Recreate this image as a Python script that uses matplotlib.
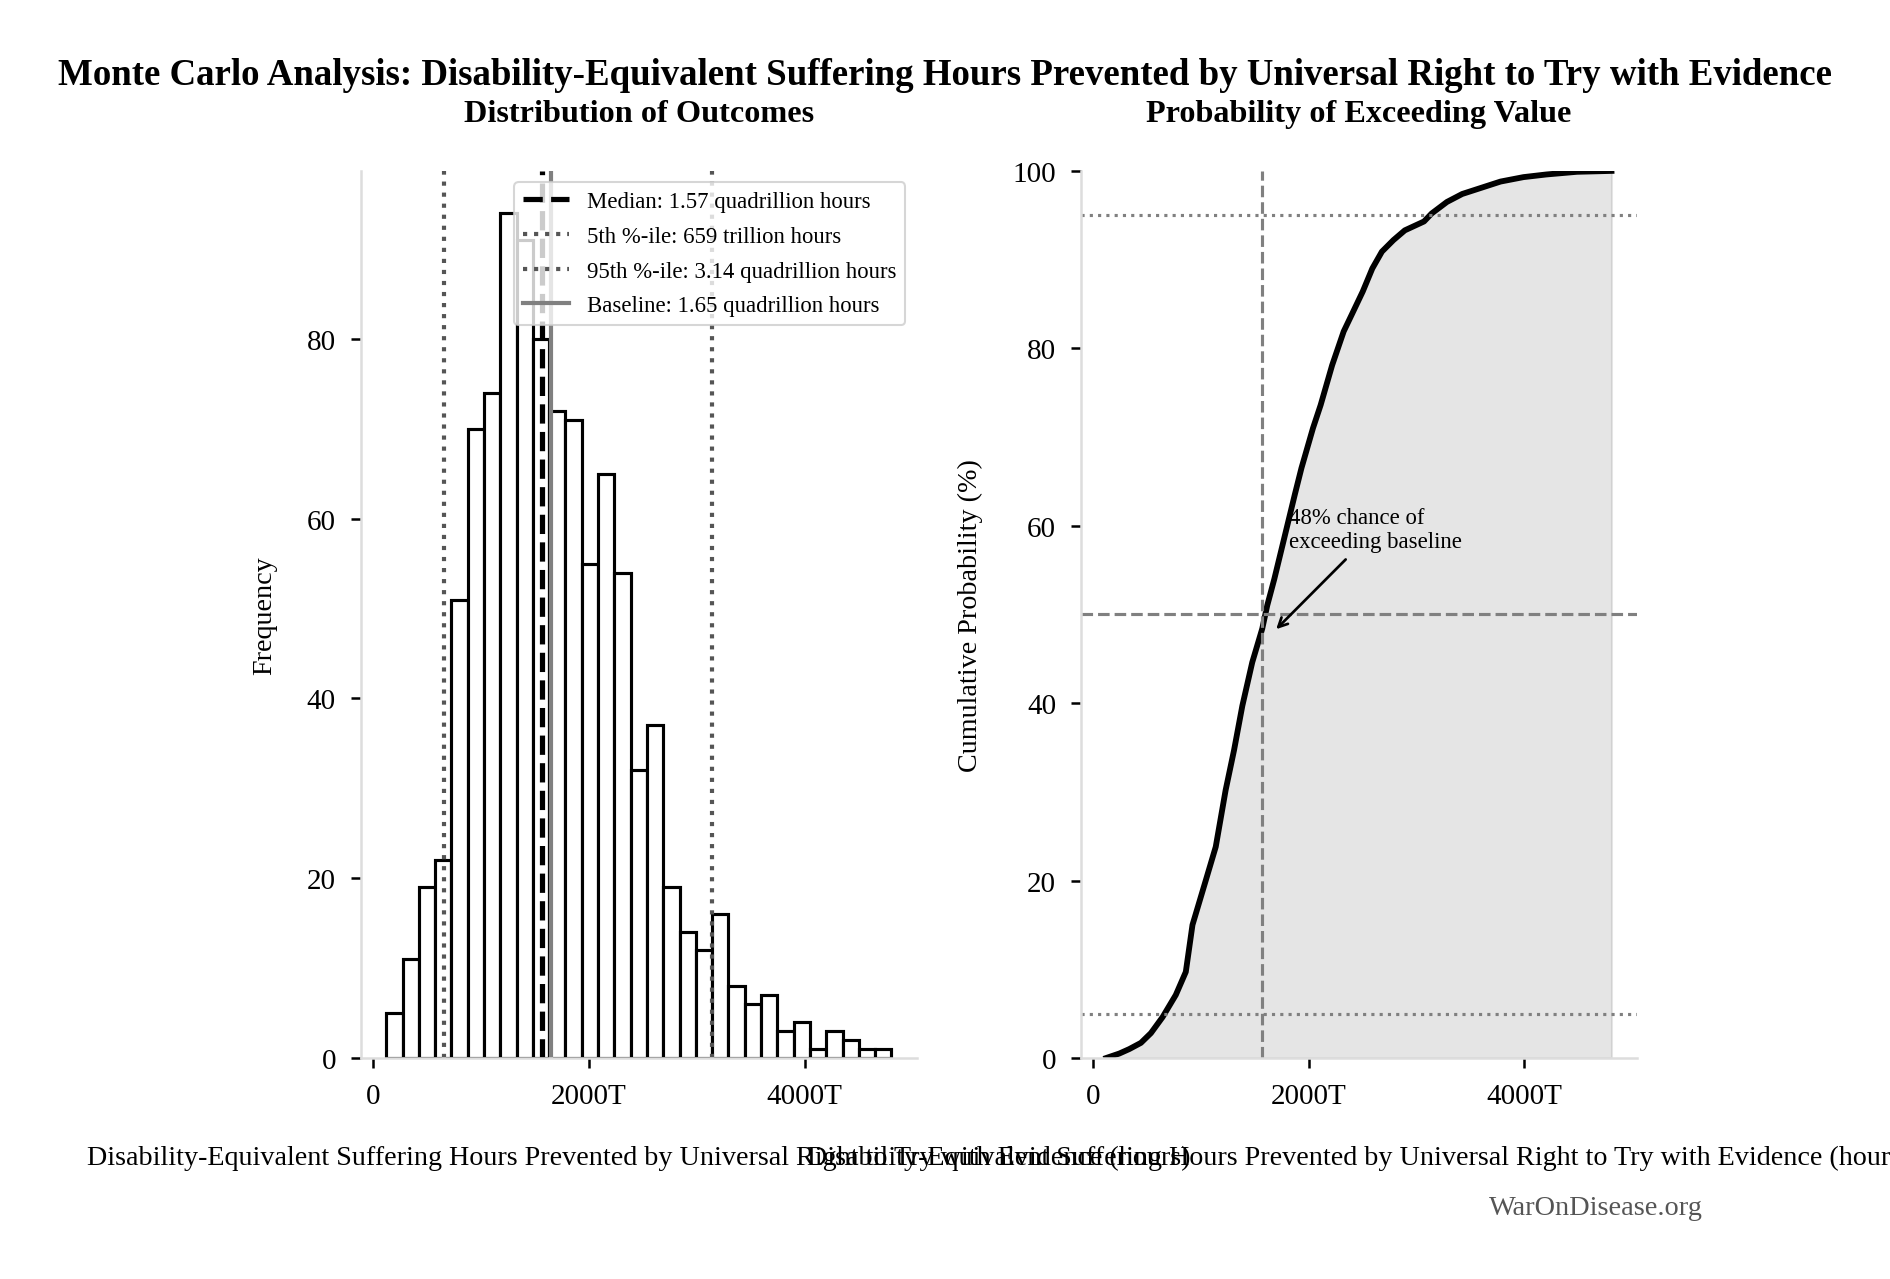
import numpy as np
import matplotlib
matplotlib.use("Agg")
import matplotlib.pyplot as plt
from matplotlib.ticker import FuncFormatter

plt.rcParams['font.family'] = ['Liberation Serif', 'DejaVu Serif']

# histogram (values in trillion hours)
bin_left = 124
bin_width = 151
counts = [5, 11, 19, 22, 51, 70, 74, 94, 91, 80, 72, 71, 55, 65, 54, 32,
          37, 19, 14, 12, 16, 8, 6, 7, 3, 4, 1, 3, 2, 1, 1]

median_val = 1570
p5_val = 659
p95_val = 3140
baseline_val = 1650

# cumulative curve
cdf_x = [120, 241, 333, 441, 534, 642, 765, 858, 920, 1043, 1136, 1228, 1306,
         1383, 1475, 1568, 1614, 1680, 1730, 1790, 1870, 1932, 2039, 2110,
         2217, 2324, 2395, 2501, 2590, 2679, 2786, 2892, 3070, 3141, 3283,
         3425, 3603, 3781, 3994, 4207, 4491, 4811]
cdf_y = [0, 0.5, 1.0, 1.7, 2.8, 4.6, 7.1, 9.7, 15, 20, 23.8, 30.2, 34.7, 39.7,
         44.6, 48.4, 51, 54, 56.5, 59.5, 63.5, 66.5, 71, 73.6, 78.1, 81.9,
         83.7, 86.4, 89, 90.9, 92.2, 93.3, 94.3, 95.2, 96.5, 97.4, 98.1, 98.8,
         99.3, 99.6, 99.9, 100]

xlab = "Disability-Equivalent Suffering Hours Prevented by Universal Right to Try with Evidence (hours)"


def fmt_t(v, pos):
    if v == 0:
        return "0"
    return f"{v:.0f}T"


def style_axes(ax):
    for s in ['top', 'right']:
        ax.spines[s].set_visible(False)
    for s in ['left', 'bottom']:
        ax.spines[s].set_color('#dddddd')
        ax.spines[s].set_linewidth(1.2)
    ax.tick_params(labelsize=14, length=5, width=1.2, pad=7)
    ax.xaxis.set_major_formatter(FuncFormatter(fmt_t))
    ax.set_xticks([0, 2000, 4000])


fig = plt.figure(figsize=(12.6, 8.5333), dpi=150)
ax1 = fig.add_axes([0.191, 0.1727, 0.294, 0.693])
ax2 = fig.add_axes([0.572, 0.1727, 0.294, 0.693])

#%% left: histogram
edges = bin_left + bin_width * np.arange(len(counts))
ax1.bar(edges, counts, width=bin_width, align='edge', facecolor='white',
        edgecolor='black', linewidth=1.5)
ax1.axvline(median_val, color='black', ls='--', lw=2.5,
            label='Median: 1.57 quadrillion hours')
ax1.axvline(p5_val, color='#555555', ls=':', lw=2,
            label='5th %-ile: 659 trillion hours')
ax1.axvline(p95_val, color='#555555', ls=':', lw=2,
            label='95th %-ile: 3.14 quadrillion hours')
ax1.axvline(baseline_val, color='gray', ls='-', lw=2,
            label='Baseline: 1.65 quadrillion hours')
style_axes(ax1)
ax1.set_yticks([0, 20, 40, 60, 80])
ax1.set_ylabel('Frequency', fontsize=13.5, labelpad=14)
ax1.set_xlabel(xlab, fontsize=13.5, labelpad=17)
ax1.set_title('Distribution of Outcomes', fontsize=15.5, fontweight='bold', pad=24)
ax1.legend(loc='upper right', fontsize=10.9, framealpha=0.8, edgecolor='#cccccc',
           labelspacing=0.6)

#%% right: cumulative probability
ax2.fill_between(cdf_x, cdf_y, color='gray', alpha=0.2)
ax2.plot(cdf_x, cdf_y, color='black', lw=2.8)
ax2.axhline(95, color='gray', ls=':', lw=1.5)
ax2.axhline(5, color='gray', ls=':', lw=1.5)
ax2.axhline(50, color='gray', ls='--', lw=1.5)
ax2.axvline(median_val, color='gray', ls='--', lw=1.5)
ax2.set_ylim(0, 100)
style_axes(ax2)
ax2.set_ylabel('Cumulative Probability (%)', fontsize=13.5, labelpad=14)
ax2.set_xlabel(xlab, fontsize=13.5, labelpad=17)
ax2.set_title('Probability of Exceeding Value', fontsize=15.5, fontweight='bold', pad=24)
ax2.annotate('48% chance of\nexceeding baseline', xy=(1670, 48), xytext=(1815, 57),
             fontsize=10.9, ha='left', va='bottom',
             arrowprops=dict(arrowstyle='->', color='black', lw=1.3))

fig.suptitle('Monte Carlo Analysis: Disability-Equivalent Suffering Hours Prevented by Universal Right to Try with Evidence',
             fontsize=17.7, fontweight='bold', y=0.941, va='center')
fig.text(0.901, 0.056, 'WarOnDisease.org', fontsize=13.6, color='#555555',
         ha='right', va='center')

fig.savefig('out.png', dpi=150)
